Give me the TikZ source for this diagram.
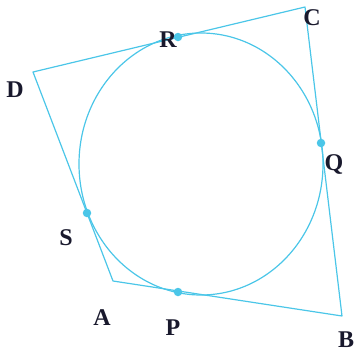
\documentclass[tikz,border=0pt]{standalone}
\usepackage{fontspec}
\setmainfont{Liberation Serif}
\definecolor{lineblue}{RGB}{75,198,232}
\definecolor{labelink}{RGB}{25,25,45}
\begin{document}
\begin{tikzpicture}[x=1pt,y=-1pt,
  edge/.style={draw=lineblue,line width=1.2pt,line join=round},
  tdot/.style={circle,fill=lineblue,inner sep=0pt,minimum size=8.5pt},
  lab/.style={text=labelink,font=\fontsize{24}{24}\selectfont\bfseries,inner sep=0pt}]
\useasboundingbox (0,0) rectangle (356,354);
% vertices
\coordinate (A) at (113,281);
\coordinate (B) at (342,316);
\coordinate (C) at (305,7);
\coordinate (D) at (33,72);
% circle
\coordinate (O) at (201,164);
\draw[edge] (O) ellipse [x radius=122, y radius=131];
% quadrilateral
\draw[edge] (A) -- (B) -- (C) -- (D) -- cycle;
% tangent points
\node[tdot] (P) at (178,292) {};
\node[tdot] (Q) at (321,143) {};
\node[tdot] (R) at (178,37) {};
\node[tdot] (S) at (87,213) {};
% labels
\node[lab] (lA) at (102,318) {A};
\node[lab] (lB) at (346,340) {B};
\node[lab] (lC) at (312,18) {C};
\node[lab] (lD) at (15,90) {D};
\node[lab] (lP) at (173,328) {P};
\node[lab] (lQ) at (334,164) {Q};
\node[lab] (lR) at (168,40) {R};
\node[lab] (lS) at (66,238) {S};
\end{tikzpicture}
\end{document}
